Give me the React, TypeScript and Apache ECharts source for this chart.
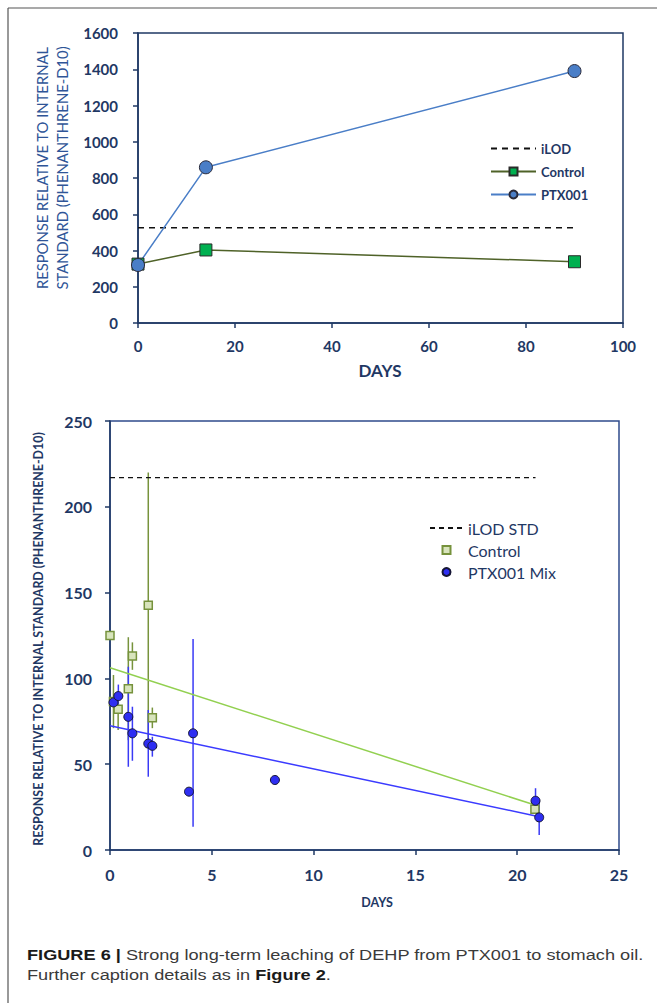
import React, { useEffect, useRef } from "react";
import * as echarts from "echarts";

// ---- Top chart data ----
const topDays = [0, 14, 90];
const topControl = [325, 403, 338];
const topPTX = [320, 859, 1390];
const topILOD = 526;
const topILODEnd = 90;

// ---- Bottom chart data ----
const ctrlX = [0, 0.17, 0.4, 0.9, 1.1, 1.88, 2.08, 20.87];
const ctrlY = [125, 86.5, 82, 94, 113, 142.6, 77, 23.7];
const ctrlLo = [null, 71, 70, 64, 105, 64, 71, null];
const ctrlHi = [null, 102, 89, 124, 121, 220, 83, null];

const ptxX = [0.17, 0.41, 0.9, 1.1, 1.88, 2.08, 3.88, 4.08, 8.1, 20.9, 21.08];
const ptxY = [86, 89.7, 77.6, 68, 62, 60.7, 34, 68, 40.8, 28.7, 19];
const ptxLo = [null, 83, 48.5, 52, 42.7, 54.4, null, 13.6, null, 21.5, 8.7];
const ptxHi = [null, 96.4, 106.8, 83.5, 81.6, 66, null, 123, null, 36, 29.3];

const trendCtrlX = [0, 20.87];
const trendCtrlY = [106.2, 26.2];
const trendPtxX = [0, 21.08];
const trendPtxY = [72.4, 19.4];

const botILOD = 217;
const botILODEnd = 20.9;

const NAVY = "#1F3864";
const FONT = "Lato, 'Open Sans', sans-serif";
const SQUARE = "path://M0,0 L10,0 L10,10 L0,10 Z";

function errData(xs: number[], lo: (number | null)[], hi: (number | null)[]) {
  const out: number[][] = [];
  xs.forEach((x, i) => {
    if (lo[i] != null && hi[i] != null) out.push([x, lo[i] as number, hi[i] as number]);
  });
  return out;
}

function errSeries(name: string, data: number[][], color: string, z: number) {
  return {
    name,
    type: "custom",
    xAxisIndex: 1,
    yAxisIndex: 1,
    z,
    encode: { x: 0, y: [1, 2] },
    data,
    renderItem: (params: any, api: any) => {
      const p1 = api.coord([api.value(0), api.value(1)]);
      const p2 = api.coord([api.value(0), api.value(2)]);
      return {
        type: "line",
        shape: { x1: p1[0], y1: p1[1], x2: p2[0], y2: p2[1] },
        style: { stroke: color, lineWidth: 1.5 },
      };
    },
  };
}

export default function App() {
  const ref = useRef<HTMLDivElement>(null);
  useEffect(() => {
    document.body.style.margin = "0";
    const chart = echarts.init(ref.current!, null, { renderer: "svg" });
    const axisLabel = (size: number, margin: number) => ({
      color: NAVY,
      fontFamily: FONT,
      fontWeight: "bold",
      fontSize: size,
      margin,
      formatter: (v: number) => String(v),
    });
    const axisCommon = {
      axisLine: { show: true, lineStyle: { color: NAVY, width: 1.5 } },
      axisTick: { show: true, inside: false, length: 5, lineStyle: { color: NAVY, width: 1.5 } },
      splitLine: { show: false },
    };
    const option: any = {
      animation: false,
      backgroundColor: "#ffffff",
      grid: [
        { left: 138, top: 33, width: 485, height: 290, show: true, borderColor: NAVY, borderWidth: 1.5, backgroundColor: "transparent" },
        { left: 110, top: 421, width: 509, height: 429, show: true, borderColor: "#2F4B8C", borderWidth: 1.5, backgroundColor: "transparent" },
      ],
      xAxis: [
        { gridIndex: 0, type: "value", min: 0, max: 100, interval: 20, ...axisCommon, axisLabel: axisLabel(15, 15) },
        { gridIndex: 1, type: "value", min: 0, max: 25, interval: 5, ...axisCommon, axisLabel: axisLabel(16, 16) },
      ],
      yAxis: [
        { gridIndex: 0, type: "value", min: 0, max: 1600, interval: 200, ...axisCommon, axisLabel: axisLabel(15, 20) },
        { gridIndex: 1, type: "value", min: 0, max: 250, interval: 50, ...axisCommon, axisLabel: axisLabel(16, 18) },
      ],
      legend: [
        {
          left: 485,
          top: 137,
          orient: "vertical",
          itemWidth: 45,
          itemHeight: 10,
          itemGap: 10,
          data: [
            { name: "iLOD", itemStyle: { opacity: 0 } },
            { name: "Control" },
            { name: "PTX001" },
          ],
          textStyle: { color: NAVY, fontFamily: FONT, fontWeight: "bold", fontSize: 13 },
        },
        {
          left: 424,
          top: 515,
          orient: "vertical",
          itemWidth: 33,
          itemHeight: 8,
          itemGap: 6,
          data: [
            { name: "iLOD STD", itemStyle: { opacity: 0 } },
            { name: "Control ", icon: SQUARE },
            { name: "PTX001 Mix" },
          ],
          textStyle: { color: NAVY, fontFamily: FONT, fontSize: 16 },
        },
      ],
      series: [
        // ---- top chart ----
        {
          name: "iLOD",
          type: "line",
          xAxisIndex: 0,
          yAxisIndex: 0,
          symbol: "none",
          data: [[0, topILOD], [topILODEnd, topILOD]],
          lineStyle: { color: "#111111", width: 1.5, type: [6, 5] },
          itemStyle: { color: "#111111" },
        },
        {
          name: "Control",
          type: "line",
          xAxisIndex: 0,
          yAxisIndex: 0,
          symbol: "rect",
          symbolSize: 12,
          data: topDays.map((d, i) => [d, topControl[i]]),
          lineStyle: { color: "#4F6228", width: 1.5 },
          itemStyle: { color: "#00B050", borderColor: "#2a2a2a", borderWidth: 1 },
        },
        {
          name: "PTX001",
          type: "line",
          xAxisIndex: 0,
          yAxisIndex: 0,
          symbol: "circle",
          symbolSize: 13,
          data: topDays.map((d, i) => [d, topPTX[i]]),
          lineStyle: { color: "#4A7EC7", width: 1.5 },
          itemStyle: { color: "#4A7EC7", borderColor: "#2a2a3a", borderWidth: 1 },
        },
        // ---- bottom chart ----
        errSeries("ctrlErr", errData(ctrlX, ctrlLo, ctrlHi), "#77933C", 1),
        errSeries("ptxErr", errData(ptxX, ptxLo, ptxHi), "#3A3AF5", 1),
        {
          name: "ctrlTrend",
          type: "line",
          xAxisIndex: 1,
          yAxisIndex: 1,
          symbol: "none",
          z: 2,
          data: trendCtrlX.map((x, i) => [x, trendCtrlY[i]]),
          lineStyle: { color: "#92D050", width: 1.5 },
        },
        {
          name: "ptxTrend",
          type: "line",
          xAxisIndex: 1,
          yAxisIndex: 1,
          symbol: "none",
          z: 2,
          data: trendPtxX.map((x, i) => [x, trendPtxY[i]]),
          lineStyle: { color: "#3B3BFF", width: 1.5 },
        },
        {
          name: "iLOD STD",
          type: "line",
          xAxisIndex: 1,
          yAxisIndex: 1,
          symbol: "none",
          z: 2,
          data: [[0, botILOD], [botILODEnd, botILOD]],
          lineStyle: { color: "#111111", width: 1.2, type: [5, 4] },
          itemStyle: { color: "#111111" },
        },
        {
          name: "Control ",
          type: "scatter",
          xAxisIndex: 1,
          yAxisIndex: 1,
          z: 3,
          symbol: "rect",
          symbolSize: 8,
          data: ctrlX.map((x, i) => [x, ctrlY[i]]),
          itemStyle: { color: "#D8E4BC", borderColor: "#76923C", borderWidth: 1.5, opacity: 1 },
        },
        {
          name: "PTX001 Mix",
          type: "scatter",
          xAxisIndex: 1,
          yAxisIndex: 1,
          z: 4,
          symbol: "circle",
          symbolSize: 9,
          data: ptxX.map((x, i) => [x, ptxY[i]]),
          itemStyle: { color: "#2E2EF2", borderColor: "#151535", borderWidth: 1, opacity: 1 },
        },
      ],
      graphic: [
        // frame
        { type: "line", shape: { x1: 8, y1: 8, x2: 657, y2: 8 }, style: { stroke: "#555555", lineWidth: 1.2 } },
        { type: "line", shape: { x1: 8, y1: 8, x2: 8, y2: 1003 }, style: { stroke: "#555555", lineWidth: 1.2 } },
        // top y title
        {
          type: "text",
          x: 52,
          y: 168,
          rotation: Math.PI / 2,
          style: {
            text: "RESPONSE RELATIVE TO INTERNAL\nSTANDARD (PHENANTHRENE-D10)",
            fill: "#2F5597",
            font: `14.8px ${FONT}`,
            lineHeight: 20,
            textAlign: "center",
            textVerticalAlign: "middle",
          },
        },
        {
          type: "text",
          x: 380,
          y: 370,
          style: { text: "DAYS", fill: NAVY, font: `bold 17px ${FONT}`, textAlign: "center", textVerticalAlign: "middle" },
        },
        // bottom y title
        {
          type: "text",
          x: 38,
          y: 639,
          rotation: Math.PI / 2,
          style: {
            text: "RESPONSE RELATIVE TO INTERNAL STANDARD (PHENANTHRENE-D10)",
            fill: NAVY,
            font: `bold 12.4px ${FONT}`,
            textAlign: "center",
            textVerticalAlign: "middle",
          },
        },
        {
          type: "text",
          x: 377,
          y: 902,
          style: { text: "DAYS", fill: NAVY, font: `bold 12.5px ${FONT}`, textAlign: "center", textVerticalAlign: "middle" },
        },
        // caption
        {
          type: "text",
          x: 27,
          y: 963,
          scaleX: 1.172,
          style: {
            text: "{b|FIGURE 6 |} Strong long-term leaching of DEHP from PTX001 to stomach oil.",
            textVerticalAlign: "bottom",
            rich: {
              b: { font: "bold 15.5px 'Liberation Sans', Arial, sans-serif", fill: "#1a1a1a" },
            },
            font: "15.5px 'Liberation Sans', Arial, sans-serif",
            fill: "#3a3a3a",
          },
        },
        {
          type: "text",
          x: 27,
          y: 983,
          scaleX: 1.172,
          style: {
            text: "Further caption details as in {b|Figure 2}.",
            textVerticalAlign: "bottom",
            rich: {
              b: { font: "bold 15.5px 'Liberation Sans', Arial, sans-serif", fill: "#1a1a1a" },
            },
            font: "15.5px 'Liberation Sans', Arial, sans-serif",
            fill: "#3a3a3a",
          },
        },
      ],
    };
    chart.setOption(option);
    return () => chart.dispose();
  }, []);
  return <div ref={ref} style={{ width: 657, height: 1003 }} />;
}
